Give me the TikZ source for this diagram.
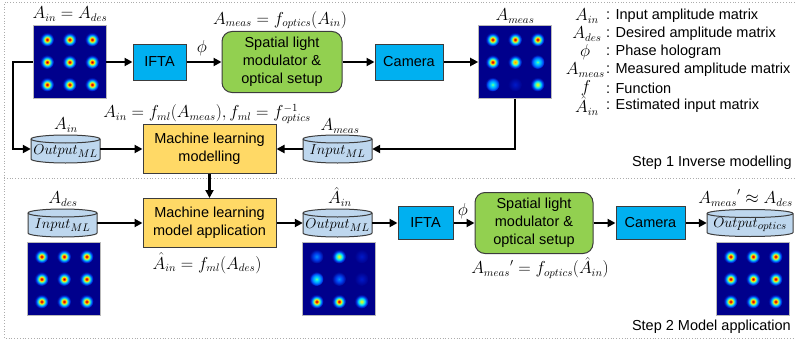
\documentclass[tikz,border=0pt]{standalone}
\usepackage[no-math]{fontspec}
\setmainfont{Liberation Sans}
\usetikzlibrary{arrows.meta}

\definecolor{cyanfill}{RGB}{0,176,240}
\definecolor{greenfill}{RGB}{146,208,80}
\definecolor{yellowfill}{RGB}{255,217,102}
\definecolor{cylfill}{RGB}{190,215,238}
\definecolor{boxedge}{RGB}{60,60,60}
\definecolor{jnavy}{RGB}{0,0,140}
\definecolor{jdred}{RGB}{170,0,0}
\definecolor{jred}{RGB}{250,20,0}
\definecolor{jorange}{RGB}{255,150,0}
\definecolor{jyellow}{RGB}{255,240,0}
\definecolor{jgreen}{RGB}{150,255,100}
\definecolor{jcyan}{RGB}{0,230,255}
\definecolor{jlblue}{RGB}{0,140,255}
\definecolor{jblue}{RGB}{0,60,235}
\definecolor{jfaint}{RGB}{0,25,200}

% spot profiles of the jet-coloured intensity maps, strongest (E) to faintest (Z)
\pgfdeclareradialshading{spotE}{\pgfpoint{0bp}{0bp}}{color(0bp)=(jdred); color(3bp)=(jred); color(8bp)=(jyellow); color(13bp)=(jcyan); color(19bp)=(jblue); color(25bp)=(jnavy); color(50bp)=(jnavy)}
\pgfdeclareradialshading{spotD}{\pgfpoint{0bp}{0bp}}{color(0bp)=(jorange); color(6bp)=(jyellow); color(12bp)=(jcyan); color(18bp)=(jblue); color(25bp)=(jnavy); color(50bp)=(jnavy)}
\pgfdeclareradialshading{spotC}{\pgfpoint{0bp}{0bp}}{color(0bp)=(jyellow); color(5bp)=(jgreen); color(11bp)=(jcyan); color(18bp)=(jblue); color(25bp)=(jnavy); color(50bp)=(jnavy)}
\pgfdeclareradialshading{spotB}{\pgfpoint{0bp}{0bp}}{color(0bp)=(jgreen); color(5bp)=(jcyan); color(14bp)=(jlblue); color(20bp)=(jblue); color(25bp)=(jnavy); color(50bp)=(jnavy)}
\pgfdeclareradialshading{spotA}{\pgfpoint{0bp}{0bp}}{color(0bp)=(jlblue); color(12bp)=(jblue); color(25bp)=(jnavy); color(50bp)=(jnavy)}
\pgfdeclareradialshading{spotZ}{\pgfpoint{0bp}{0bp}}{color(0bp)=(jfaint); color(25bp)=(jnavy); color(50bp)=(jnavy)}

\tikzset{
  frameline/.style={draw=gray!65, dotted, line width=0.8pt},
  arr/.style={line width=2.2pt, -{Triangle[length=8pt,width=8pt]}},
  procbox/.style={draw=boxedge, line width=1pt, fill=cyanfill, align=center, inner sep=0pt},
  slmbox/.style={draw=boxedge, line width=1pt, fill=greenfill, rounded corners=10pt, align=center, inner sep=0pt},
  mlbox/.style={draw=boxedge, line width=1pt, fill=yellowfill, align=center, inner sep=0pt},
  img/.style={draw=gray!55, line width=0.6pt, fill=jnavy, minimum width=73pt, minimum height=73pt, inner sep=0pt},
  cylbody/.style={draw=boxedge, line width=1pt, fill=cylfill},
  cyltext/.style={inner sep=0pt, font=\fontsize{15}{18}\selectfont},
  lbl/.style={inner sep=0pt, font=\fontsize{16}{18}\selectfont},
  legtext/.style={inner sep=0pt, anchor=west},
}

% database cylinder: name, centre, width, height, text
\newcommand\dbcyl[5]{%
  \begin{scope}[shift={#2}]
    \filldraw[cylbody] (-#3/2,#4/2-4) -- (-#3/2,-#4/2+4)
      arc[start angle=180,end angle=360,x radius=#3/2,y radius=4]
      -- (#3/2,#4/2-4)
      arc[start angle=0,end angle=180,x radius=#3/2,y radius=4] -- cycle;
    \draw[cylbody, fill=none] (-#3/2,#4/2-4)
      arc[start angle=180,end angle=360,x radius=#3/2,y radius=4];
  \end{scope}
  \coordinate (#1-c) at #2;
  \node[inner sep=0pt, minimum width=#3pt, minimum height=#4pt] (#1) at (#1-c) {};
  \node[cyltext] (#1-t) at ([yshift=-2pt]#1-c) {#5};
}

% 3x3 grid of spots inside an image node
\newcommand\spotgrid[2]{%
  \foreach \lv [count=\i from 0] in {#2} {
    \pgfmathtruncatemacro\cc{mod(\i,3)}
    \pgfmathtruncatemacro\rr{div(\i,3)}
    \shade[shading=spot\lv, shift={(#1.center)}]
      (\cc*22.5-22.5, 22.5-\rr*22.5) circle[radius=7];
  }
}

\begin{document}
\begin{tikzpicture}[x=1pt, y=1pt, font=\fontsize{14.5}{18}\selectfont]
\useasboundingbox (0,0) rectangle (795,341);

% frame and divider
\draw[frameline] (795,338.5) -- (4,338.5) -- (4,3) -- (795,3);
\draw[frameline] (4,163) -- (795,163);

% ---------------- Step 1: inverse modelling ----------------
\node[img] (im1) at (69.5,279) {};
\spotgrid{im1}{E,E,E,E,E,E,E,E,E}
\node[procbox, minimum width=53pt, minimum height=36pt] (ifta1) at (159.5,279) {IFTA};
\node[slmbox, minimum width=120pt, minimum height=61pt] (slm1) at (282,279) {Spatial light\\modulator \&\\optical setup};
\node[procbox, minimum width=68pt, minimum height=36pt] (cam1) at (409,279) {Camera};
\node[img] (im2) at (515,279) {};
\spotgrid{im2}{E,E,E,E,D,B,B,Z,C}

\dbcyl{cyl1}{(65.5,192)}{69}{28}{$Output_{ML}$}
\node[mlbox, minimum width=133pt, minimum height=49pt] (ml1) at (209.5,192) {Machine learning\\modelling};
\dbcyl{cyl2}{(337.5,192)}{69}{28}{$Input_{ML}$}

\node[lbl] (t1) at (70,327) {$A_{in} = A_{des}$};
\node[lbl] (t2) at (280,321) {$A_{meas} = f_{optics}(A_{in})$};
\node[lbl] (t3) at (202,293) {$\phi$};
\node[lbl] (t4) at (515,325) {$A_{meas}$};
\node[lbl] (t5) at (66,216) {$A_{in}$};
\node[lbl] (t6) at (340,215) {$A_{meas}$};
\node[lbl] (t7) at (207,227) {$A_{in} = f_{ml}(A_{meas}), f_{ml} = f_{optics}^{-1}$};

\draw[arr] (im1.east) -- (ifta1.west);
\draw[arr] (ifta1.east) -- (slm1.west);
\draw[arr] (slm1.east) -- (cam1.west);
\draw[arr] (cam1.east) -- (im2.west);
\draw[arr] (im1.west) -- ++(-20,0) |- (cyl1.west);
\draw[arr] (im2.south) |- (cyl2.east);
\draw[arr] (cyl2.west) -- (ml1.east);
\draw[arr] (cyl1.east) -- (ml1.west);

\node[inner sep=0pt, anchor=east] (s1) at (792,178) {Step 1 Inverse modelling};

% legend
\node[lbl] (ls0) at (587,325) {$A_{in}$};
\node[lbl] (ls1) at (587,307) {$A_{des}$};
\node[lbl] (ls2) at (585,289) {$\phi$};
\node[lbl, anchor=east] (ls3) at (605,271) {$A_{meas}$};
\node[lbl] (ls4) at (586,253) {$f$};
\node[lbl] (ls5) at (587,235) {$\hat{A}_{in}$};
\node[legtext] (lt0) at (606,325) {: Input amplitude matrix};
\node[legtext] (lt1) at (606,307) {: Desired amplitude matrix};
\node[legtext] (lt2) at (606,289) {: Phase hologram};
\node[legtext] (lt3) at (606,271) {: Measured amplitude matrix};
\node[legtext] (lt4) at (606,253) {: Function};
\node[legtext] (lt5) at (606,235) {: Estimated input matrix};

% ---------------- Step 2: model application ----------------
\dbcyl{cyl3}{(62.5,118)}{69}{28}{$Input_{ML}$}
\node[img] (im3) at (64,62) {};
\spotgrid{im3}{E,E,E,E,E,E,E,E,E}
\node[mlbox, minimum width=133pt, minimum height=49pt] (ml2) at (209.5,118) {Machine learning\\model application};
\dbcyl{cyl4}{(337.5,118)}{69}{28}{$Output_{ML}$}
\node[img] (im4) at (339,62) {};
\spotgrid{im4}{A,C,Z,B,A,Z,E,E,C}
\node[procbox, minimum width=55pt, minimum height=33pt] (ifta2) at (425.5,118) {IFTA};
\node[slmbox, minimum width=118pt, minimum height=61pt] (slm2) at (534,118) {Spatial light\\modulator \&\\optical setup};
\node[procbox, minimum width=69pt, minimum height=33pt] (cam2) at (650.5,118) {Camera};
\dbcyl{cyl5}{(750,118)}{86}{27}{$Output_{optics}$}
\node[img] (im5) at (753,62) {};
\spotgrid{im5}{E,E,E,E,E,E,E,E,E}

\node[lbl] (u1) at (63,142) {$A_{des}$};
\node[lbl] (u2) at (340,144) {$\hat{A}_{in}$};
\node[lbl] (u3) at (207,78) {$\hat{A}_{in} = f_{ml}(A_{des})$};
\node[lbl] (u4) at (463,130) {$\phi$};
\node[lbl] (u5) at (540,73) {${A_{meas}}' = f_{optics}(\hat{A}_{in})$};
\node[lbl, anchor=east] (u6) at (793,143) {${A_{meas}}' \approx A_{des}$};

\draw[arr] (ml1.south) -- (ml2.north);
\draw[arr] (cyl3.east) -- (ml2.west);
\draw[arr] (ml2.east) -- (cyl4.west);
\draw[arr] (cyl4.east) -- (ifta2.west);
\draw[arr] (ifta2.east) -- (slm2.west);
\draw[arr] (slm2.east) -- (cam2.west);
\draw[arr] (cam2.east) -- (cyl5.west);

\node[inner sep=0pt, anchor=east] (s2) at (791,14) {Step 2 Model application};
\end{tikzpicture}
\end{document}
